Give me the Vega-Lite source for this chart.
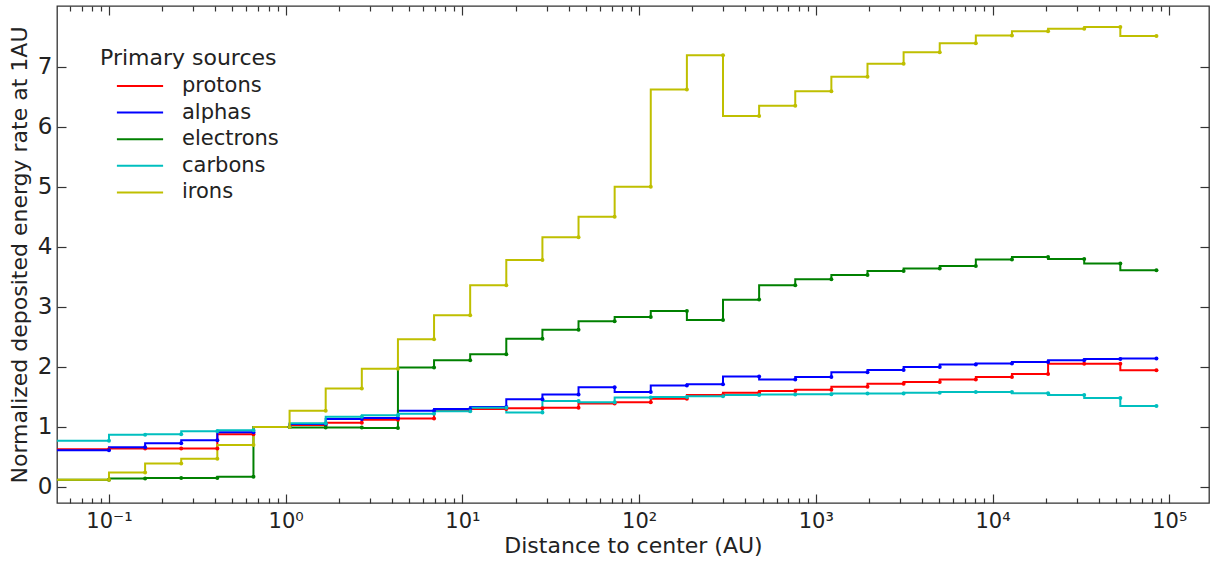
{
"$schema": "https://vega.github.io/schema/vega-lite/v6.json",
"width": 1152, "height": 497,
"autosize": {"type": "none"},
"padding": {"left": 57, "top": 6, "right": 2, "bottom": 59},
"background": "white",
"config": {
  "font": "DejaVu Sans",
  "view": {"stroke": "#333", "strokeWidth": 1.3},
  "axis": {"grid": false, "domain": false, "tickColor": "#333", "tickWidth": 1.2, "labelColor": "#222", "titleColor": "#222", "titleFontWeight": "normal"}
},
"datasets": {
 "d": [
{"s":"protons","x":0.03,"y":0.63},{"s":"protons","x":0.1,"y":0.63},{"s":"protons","x":0.16011,"y":0.64},{"s":"protons","x":0.25633,"y":0.64},{"s":"protons","x":0.41039,"y":0.64},{"s":"protons","x":0.65705,"y":0.88},{"s":"protons","x":1.052,"y":1.0},{"s":"protons","x":1.6842,"y":1.03},{"s":"protons","x":2.6966,"y":1.07},{"s":"protons","x":4.3173,"y":1.12},{"s":"protons","x":6.9122,"y":1.14},{"s":"protons","x":11.066,"y":1.27},{"s":"protons","x":17.718,"y":1.30},{"s":"protons","x":28.367,"y":1.31},{"s":"protons","x":45.417,"y":1.32},{"s":"protons","x":72.715,"y":1.39},{"s":"protons","x":116.41,"y":1.41},{"s":"protons","x":186.38,"y":1.47},{"s":"protons","x":298.4,"y":1.53},{"s":"protons","x":477.75,"y":1.57},{"s":"protons","x":764.9,"y":1.60},{"s":"protons","x":1224.6,"y":1.62},{"s":"protons","x":1960.7,"y":1.67},{"s":"protons","x":3139.2,"y":1.72},{"s":"protons","x":5025.9,"y":1.75},{"s":"protons","x":8046.6,"y":1.79},{"s":"protons","x":12882,"y":1.83},{"s":"protons","x":20626,"y":1.88},{"s":"protons","x":33022,"y":2.05},{"s":"protons","x":52869,"y":2.05},{"s":"protons","x":84645,"y":1.945},
{"s":"alphas","x":0.03,"y":0.61},{"s":"alphas","x":0.1,"y":0.61},{"s":"alphas","x":0.16011,"y":0.66},{"s":"alphas","x":0.25633,"y":0.73},{"s":"alphas","x":0.41039,"y":0.78},{"s":"alphas","x":0.65705,"y":0.91},{"s":"alphas","x":1.052,"y":1.0},{"s":"alphas","x":1.6842,"y":1.05},{"s":"alphas","x":2.6966,"y":1.13},{"s":"alphas","x":4.3173,"y":1.15},{"s":"alphas","x":6.9122,"y":1.27},{"s":"alphas","x":11.066,"y":1.30},{"s":"alphas","x":17.718,"y":1.33},{"s":"alphas","x":28.367,"y":1.46},{"s":"alphas","x":45.417,"y":1.54},{"s":"alphas","x":72.715,"y":1.66},{"s":"alphas","x":116.41,"y":1.58},{"s":"alphas","x":186.38,"y":1.69},{"s":"alphas","x":298.4,"y":1.71},{"s":"alphas","x":477.75,"y":1.84},{"s":"alphas","x":764.9,"y":1.79},{"s":"alphas","x":1224.6,"y":1.83},{"s":"alphas","x":1960.7,"y":1.91},{"s":"alphas","x":3139.2,"y":1.95},{"s":"alphas","x":5025.9,"y":2.0},{"s":"alphas","x":8046.6,"y":2.04},{"s":"alphas","x":12882,"y":2.056},{"s":"alphas","x":20626,"y":2.08},{"s":"alphas","x":33022,"y":2.11},{"s":"alphas","x":52869,"y":2.13},{"s":"alphas","x":84645,"y":2.14},
{"s":"electrons","x":0.03,"y":0.12},{"s":"electrons","x":0.1,"y":0.12},{"s":"electrons","x":0.16011,"y":0.14},{"s":"electrons","x":0.25633,"y":0.15},{"s":"electrons","x":0.41039,"y":0.15},{"s":"electrons","x":0.65705,"y":0.17},{"s":"electrons","x":1.052,"y":1.0},{"s":"electrons","x":1.6842,"y":0.99},{"s":"electrons","x":2.6966,"y":0.99},{"s":"electrons","x":4.3173,"y":0.98},{"s":"electrons","x":6.9122,"y":1.99},{"s":"electrons","x":11.066,"y":2.11},{"s":"electrons","x":17.718,"y":2.21},{"s":"electrons","x":28.367,"y":2.47},{"s":"electrons","x":45.417,"y":2.62},{"s":"electrons","x":72.715,"y":2.76},{"s":"electrons","x":116.41,"y":2.83},{"s":"electrons","x":186.38,"y":2.93},{"s":"electrons","x":298.4,"y":2.78},{"s":"electrons","x":477.75,"y":3.12},{"s":"electrons","x":764.9,"y":3.36},{"s":"electrons","x":1224.6,"y":3.46},{"s":"electrons","x":1960.7,"y":3.53},{"s":"electrons","x":3139.2,"y":3.595},{"s":"electrons","x":5025.9,"y":3.64},{"s":"electrons","x":8046.6,"y":3.68},{"s":"electrons","x":12882,"y":3.79},{"s":"electrons","x":20626,"y":3.83},{"s":"electrons","x":33022,"y":3.795},{"s":"electrons","x":52869,"y":3.72},{"s":"electrons","x":84645,"y":3.61},
{"s":"carbons","x":0.03,"y":0.77},{"s":"carbons","x":0.1,"y":0.77},{"s":"carbons","x":0.16011,"y":0.87},{"s":"carbons","x":0.25633,"y":0.88},{"s":"carbons","x":0.41039,"y":0.93},{"s":"carbons","x":0.65705,"y":0.945},{"s":"carbons","x":1.052,"y":1.0},{"s":"carbons","x":1.6842,"y":1.06},{"s":"carbons","x":2.6966,"y":1.17},{"s":"carbons","x":4.3173,"y":1.195},{"s":"carbons","x":6.9122,"y":1.22},{"s":"carbons","x":11.066,"y":1.26},{"s":"carbons","x":17.718,"y":1.32},{"s":"carbons","x":28.367,"y":1.24},{"s":"carbons","x":45.417,"y":1.43},{"s":"carbons","x":72.715,"y":1.41},{"s":"carbons","x":116.41,"y":1.49},{"s":"carbons","x":186.38,"y":1.50},{"s":"carbons","x":298.4,"y":1.51},{"s":"carbons","x":477.75,"y":1.53},{"s":"carbons","x":764.9,"y":1.54},{"s":"carbons","x":1224.6,"y":1.545},{"s":"carbons","x":1960.7,"y":1.556},{"s":"carbons","x":3139.2,"y":1.556},{"s":"carbons","x":5025.9,"y":1.57},{"s":"carbons","x":8046.6,"y":1.58},{"s":"carbons","x":12882,"y":1.58},{"s":"carbons","x":20626,"y":1.56},{"s":"carbons","x":33022,"y":1.53},{"s":"carbons","x":52869,"y":1.48},{"s":"carbons","x":84645,"y":1.35},
{"s":"irons","x":0.03,"y":0.12},{"s":"irons","x":0.1,"y":0.12},{"s":"irons","x":0.16011,"y":0.24},{"s":"irons","x":0.25633,"y":0.39},{"s":"irons","x":0.41039,"y":0.47},{"s":"irons","x":0.65705,"y":0.70},{"s":"irons","x":1.052,"y":1.0},{"s":"irons","x":1.6842,"y":1.27},{"s":"irons","x":2.6966,"y":1.64},{"s":"irons","x":4.3173,"y":1.97},{"s":"irons","x":6.9122,"y":2.46},{"s":"irons","x":11.066,"y":2.86},{"s":"irons","x":17.718,"y":3.36},{"s":"irons","x":28.367,"y":3.78},{"s":"irons","x":45.417,"y":4.16},{"s":"irons","x":72.715,"y":4.50},{"s":"irons","x":116.41,"y":5.0},{"s":"irons","x":186.38,"y":6.62},{"s":"irons","x":298.4,"y":7.19},{"s":"irons","x":477.75,"y":6.18},{"s":"irons","x":764.9,"y":6.35},{"s":"irons","x":1224.6,"y":6.59},{"s":"irons","x":1960.7,"y":6.83},{"s":"irons","x":3139.2,"y":7.05},{"s":"irons","x":5025.9,"y":7.24},{"s":"irons","x":8046.6,"y":7.39},{"s":"irons","x":12882,"y":7.52},{"s":"irons","x":20626,"y":7.59},{"s":"irons","x":33022,"y":7.63},{"s":"irons","x":52869,"y":7.66},{"s":"irons","x":84645,"y":7.51}
 ]
},
"data": {"name": "d"},
"layer": [
 {
  "mark": {"type": "line", "interpolate": "step-before", "strokeWidth": 2, "clip": true},
  "encoding": {
   "x": {"field": "x", "type": "quantitative", "scale": {"type": "log", "domain": [0.0508, 167900], "nice": false},
     "axis": {"orient": "bottom", "values": [0.1, 1, 10, 100, 1000, 10000, 100000], "labelExpr": "'10' + (datum.value < 0.5 ? '⁻¹' : datum.value < 5 ? '⁰' : datum.value < 50 ? '¹' : datum.value < 500 ? '²' : datum.value < 5000 ? '³' : datum.value < 50000 ? '⁴' : '⁵')", "tickSize": -9, "labelPadding": 16, "labelFontSize": 21, "title": "Distance to center (AU)", "titleFontSize": 22, "titlePadding": 4}},
   "y": {"field": "y", "type": "quantitative", "scale": {"domain": [-0.267, 8.01], "nice": false, "zero": false},
     "axis": {"orient": "left", "values": [0, 1, 2, 3, 4, 5, 6, 7], "tickSize": -9, "labelPadding": 14, "labelFontSize": 23, "title": "Normalized deposited energy rate at 1AU", "titleFontSize": 22, "titlePadding": 6}},
   "color": {"field": "s", "type": "nominal",
     "scale": {"domain": ["protons", "alphas", "electrons", "carbons", "irons"], "range": ["#ff0000", "#0000ff", "#008000", "#00bfbf", "#bfbf00"]},
     "legend": {"title": "Primary sources", "orient": "none", "legendX": 43, "legendY": 42, "symbolType": "M-2.1,0H2.1", "symbolSize": 484, "symbolStrokeWidth": 2, "titleFontSize": 22, "titleFontWeight": "normal", "labelFontSize": 21, "titleColor": "#222", "labelColor": "#222", "rowPadding": 4.6, "titlePadding": 4, "symbolOffset": 28, "labelOffset": 30, "padding": 0}}
  }
 },
 {
  "transform": [{"filter": "datum.x >= 0.1"}],
  "mark": {"type": "point", "filled": true, "size": 16, "opacity": 1},
  "encoding": {
   "x": {"field": "x", "type": "quantitative", "axis": null},
   "y": {"field": "y", "type": "quantitative", "axis": null},
   "fill": {"field": "s", "type": "nominal", "legend": null,
     "scale": {"domain": ["protons", "alphas", "electrons", "carbons", "irons"], "range": ["#ff0000", "#0000ff", "#008000", "#00bfbf", "#bfbf00"]}}
  }
 },
 {
  "transform": [{"filter": "datum.x >= 0.1"}],
  "mark": {"type": "point", "opacity": 0},
  "encoding": {
   "x": {"field": "x", "type": "quantitative", "axis": {"orient": "bottom", "values": [0.06,0.07,0.08,0.09,0.2,0.3,0.4,0.5,0.6,0.7,0.8,0.9,2,3,4,5,6,7,8,9,20,30,40,50,60,70,80,90,200,300,400,500,600,700,800,900,2000,3000,4000,5000,6000,7000,8000,9000,20000,30000,40000,50000,60000,70000,80000,90000], "labels": false, "tickSize": -5, "title": null}},
   "y": {"field": "y", "type": "quantitative", "axis": {"orient": "right", "values": [0,1,2,3,4,5,6,7], "labels": false, "tickSize": -9, "title": null}}
  }
 },
 {
  "transform": [{"filter": "datum.x >= 0.1"}],
  "mark": {"type": "point", "opacity": 0},
  "encoding": {
   "x": {"field": "x", "type": "quantitative", "axis": {"orient": "top", "values": [0.1, 1, 10, 100, 1000, 10000, 100000], "labels": false, "tickSize": -9, "title": null}},
   "y": {"field": "y", "type": "quantitative", "axis": null}
  }
 },
 {
  "transform": [{"filter": "datum.x >= 0.1"}],
  "mark": {"type": "point", "opacity": 0},
  "encoding": {
   "x": {"field": "x", "type": "quantitative", "axis": {"orient": "top", "values": [0.06,0.07,0.08,0.09,0.2,0.3,0.4,0.5,0.6,0.7,0.8,0.9,2,3,4,5,6,7,8,9,20,30,40,50,60,70,80,90,200,300,400,500,600,700,800,900,2000,3000,4000,5000,6000,7000,8000,9000,20000,30000,40000,50000,60000,70000,80000,90000], "labels": false, "tickSize": -5, "title": null}},
   "y": {"field": "y", "type": "quantitative", "axis": null}
  }
 }
],
"resolve": {"axis": {"x": "independent", "y": "independent"}}
}
